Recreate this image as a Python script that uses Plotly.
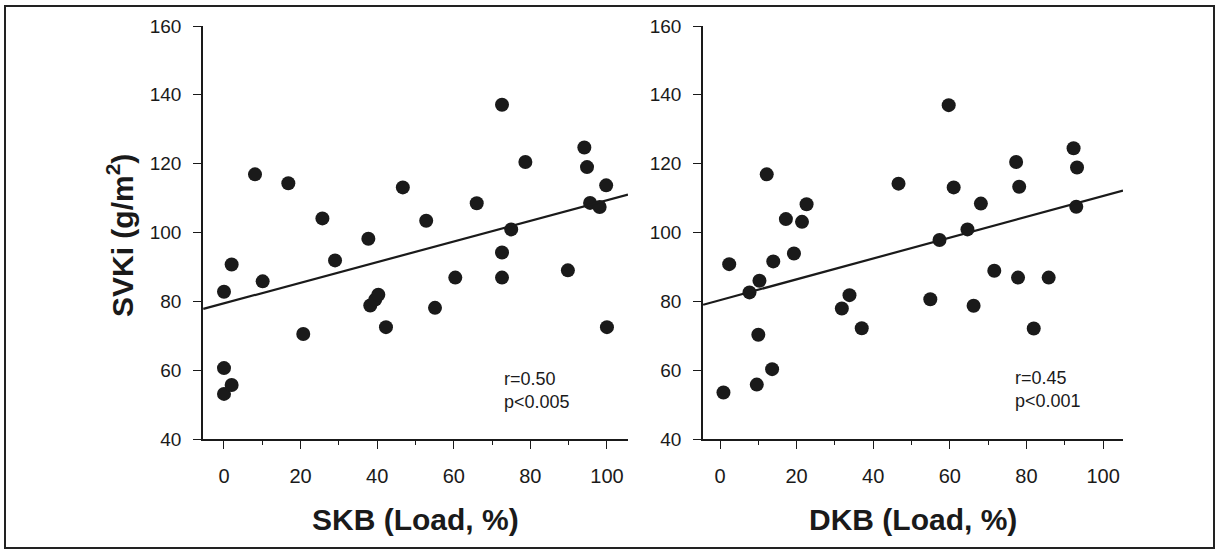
import plotly.graph_objects as go

# ---- data ----
skb_x = [0, 0, 0, 2, 2, 8.1, 10.1, 16.8, 20.7, 25.7, 29.0, 37.7, 38.2, 39.5, 40.3, 42.3,
         46.7, 52.8, 55.1, 60.4, 66.0, 72.6, 72.6, 72.6, 75.0, 78.7, 89.8, 94.1, 94.8,
         95.6, 98.1, 99.8, 100]
skb_y = [82.8, 60.6, 53.1, 55.7, 90.7, 116.9, 85.8, 114.3, 70.5, 104.1, 91.9, 98.2, 78.8,
         80.5, 81.9, 72.5, 113.1, 103.4, 78.1, 86.9, 108.5, 137.1, 94.2, 86.9, 100.9, 120.5,
         89.0, 124.7, 119.0, 108.6, 107.4, 113.7, 72.5]

dkb_x = [0.9, 2.4, 7.7, 10.0, 10.3, 9.6, 12.2, 13.6, 13.9, 17.2, 19.3, 21.4, 22.6, 31.8,
         33.8, 37.0, 46.6, 54.9, 57.3, 59.7, 61.0, 64.6, 66.2, 68.1, 71.6, 77.3, 78.1, 77.8,
         81.9, 85.8, 92.3, 93.2, 93.0]
dkb_y = [53.5, 90.8, 82.6, 70.3, 86.0, 55.8, 116.9, 60.3, 91.6, 103.9, 93.9, 103.1, 108.2,
         77.9, 81.8, 72.2, 114.2, 80.6, 97.8, 137.0, 113.1, 100.9, 78.7, 108.4, 88.9, 120.5,
         113.3, 86.9, 72.1, 86.9, 124.5, 118.9, 107.5]

skb_fit_x = [-5.4, 105.5]
skb_fit_y = [77.8, 111.0]
dkb_fit_x = [-4.4, 105.2]
dkb_fit_y = [79.0, 112.2]

x_ticks = [0, 20, 40, 60, 80, 100]
y_ticks = [40, 60, 80, 100, 120, 140, 160]

stats_left = "r=0.50<br>p<0.005"
stats_right = "r=0.45<br>p<0.001"
x_title_left = "SKB (Load, %)"
x_title_right = "DKB (Load, %)"
y_title = "SVKi (g/m<sup>2</sup>)"

# ---- figure ----
W, H = 1216, 553
FONT = "Liberation Sans, Arial, sans-serif"
INK = "#1a1a1a"

fig = go.Figure()

mk = dict(size=14, color=INK, line=dict(width=0))
fig.add_trace(go.Scatter(x=skb_x, y=skb_y, mode="markers", marker=mk, xaxis="x", yaxis="y",
                         showlegend=False))
fig.add_trace(go.Scatter(x=skb_fit_x, y=skb_fit_y, mode="lines", line=dict(color=INK, width=2.2),
                         xaxis="x", yaxis="y", showlegend=False))
fig.add_trace(go.Scatter(x=dkb_x, y=dkb_y, mode="markers", marker=mk, xaxis="x2", yaxis="y2",
                         showlegend=False))
fig.add_trace(go.Scatter(x=dkb_fit_x, y=dkb_fit_y, mode="lines", line=dict(color=INK, width=2.2),
                         xaxis="x2", yaxis="y2", showlegend=False))

def px(x):
    return x / W

def py(y):
    return 1 - y / H

ydom = [py(439), py(26)]

xcommon = dict(
    showline=True, linecolor=INK, linewidth=1.6, showgrid=False, zeroline=False,
    automargin=False,
    ticks="outside", ticklen=8, tickwidth=1.4, tickcolor=INK,
    tickvals=x_ticks, ticktext=[str(v) for v in x_ticks],
    minor=dict(dtick=10, tick0=0, ticks="outside", ticklen=4, tickwidth=1.4, tickcolor=INK,
               showgrid=False),
    tickfont=dict(family=FONT, size=20, color=INK), ticklabelstandoff=10,
)
ycommon = dict(
    showline=True, linecolor=INK, linewidth=1.6, showgrid=False, zeroline=False,
    automargin=False,
    ticks="outside", ticklen=8, tickwidth=1.4, tickcolor=INK,
    tickvals=y_ticks, ticktext=[str(v) for v in y_ticks], range=[40, 160],
    tickfont=dict(family=FONT, size=19, color=INK), ticklabelstandoff=8,
    domain=ydom,
)

fig.update_layout(
    template="none",
    width=W, height=H, autosize=False,
    margin=dict(l=0, r=0, t=0, b=0, pad=0, autoexpand=False),
    paper_bgcolor="white", plot_bgcolor="white",
    font=dict(family=FONT, color=INK),
    xaxis=dict(domain=[px(203), px(628)], range=[-5.48, 105.5], anchor="y", **xcommon),
    yaxis=dict(anchor="x", **ycommon),
    xaxis2=dict(domain=[px(703), px(1123)], range=[-4.44, 105.2], anchor="y2", **xcommon),
    yaxis2=dict(anchor="x2", **ycommon),
    showlegend=False,
)

annotations = [
    dict(text=stats_left, x=72.6, y=54.0, xref="x", yref="y", xanchor="left", yanchor="middle",
         align="left", showarrow=False, font=dict(family=FONT, size=18, color=INK)),
    dict(text=stats_right, x=76.5, y=54.5, xref="x2", yref="y2", xanchor="left", yanchor="middle",
         align="left", showarrow=False, font=dict(family=FONT, size=18, color=INK)),
    dict(text="<b>" + x_title_left + "</b>", x=px(415), y=py(519), xref="paper", yref="paper",
         xanchor="center", yanchor="middle", showarrow=False,
         font=dict(family=FONT, size=30, color=INK)),
    dict(text="<b>" + x_title_right + "</b>", x=px(913), y=py(519), xref="paper", yref="paper",
         xanchor="center", yanchor="middle", showarrow=False,
         font=dict(family=FONT, size=30, color=INK)),
    dict(text="<b>" + y_title + "</b>", x=px(120), y=py(236), xref="paper", yref="paper",
         xanchor="center", yanchor="middle", textangle=-90, showarrow=False,
         font=dict(family=FONT, size=30, color=INK)),
]
fig.update_layout(annotations=annotations)

fig.add_shape(type="rect", xref="paper", yref="paper",
              x0=px(5), x1=px(1214), y0=py(548), y1=py(6),
              line=dict(color="#222222", width=2), fillcolor="rgba(0,0,0,0)")

fig.write_html(
    "out.html",
    config={"displayModeBar": False},
    post_script="document.body.style.margin='0';document.body.style.overflow='hidden';",
)
